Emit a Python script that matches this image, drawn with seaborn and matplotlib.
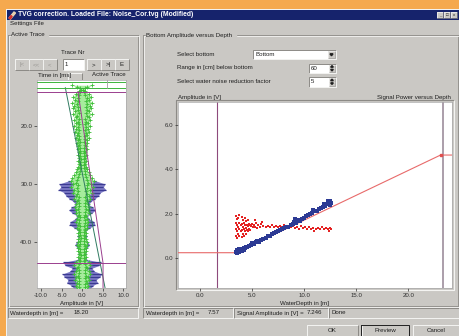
import numpy as np
import pandas as pd
import matplotlib
matplotlib.use("Agg")
import matplotlib.pyplot as plt
from matplotlib.patches import Rectangle, Polygon
from matplotlib.ticker import FormatStrFormatter, MultipleLocator
import seaborn as sns

# ---------------- data ----------------
# active trace, sampled every 0.5 m starting at 13.0 m
trace_depth_start = 13.0
trace_depth_step = 0.5
green_amp = [2.5, 0.6, 0.8, 1.6, 2.2, 1.8, 2.4, 1.9, 2.2, 1.7,
             2.3, 1.6, 2.0, 1.5, 1.9, 1.4, 1.8, 1.3, 1.6, 1.1,
             1.3, 0.9, 1.1, 0.8, 1.0, 0.7, 0.9, 0.7, 0.9, 1.2,
             1.6, 2.0, 2.4, 2.8, 2.2, 2.6, 2.0, 2.3, 1.6, 1.9,
             1.3, 1.5, 1.8, 1.4, 1.6, 1.0, 1.3, 1.5, 1.1, 1.3,
             0.8, 1.0, 0.7, 0.9, 1.1, 1.3, 0.9, 1.0, 0.7, 0.9,
             0.8, 1.6, 1.9, 1.3, 1.6, 1.9, 1.4, 1.7, 1.3, 1.5,
             1.2]
blue_amp = [0.0] * 33 + [3.5, 5.6, 5.2, 5.8, 4.4, 4.0, 3.2, 2.2, 1.6, 2.6,
                         3.2, 2.4, 1.2, 1.8, 2.9, 3.1, 2.0, 1.0, 0.8, 1.2,
                         0.7, 1.4, 1.8, 1.2, 0.8, 1.0, 0.6, 1.2, 4.6, 4.2,
                         2.4, 3.0, 4.8, 4.3, 3.4, 3.8, 2.6, 2.0]

# TVG guide curves on the trace panel (amplitude, depth)
tvg_green_x = [-4.1, 5.6]
tvg_green_d = [13.4, 47.9]
tvg_purple_x = [-1.0, 5.1, 5.1]
tvg_purple_d = [14.1, 43.6, 47.9]
marker_green_d = [12.4, 13.4]
marker_purple_d = [14.1, 43.6]

# bottom amplitude versus water depth
blue_x = [3.5, 3.6, 3.7, 3.8, 3.9, 4.0, 4.1, 4.2, 4.3, 4.4, 4.5, 4.7, 4.9, 5.0,
          5.2, 5.4, 5.5, 5.7, 5.9, 6.1, 6.3, 6.5, 6.7, 6.9, 7.1, 7.3, 7.5, 7.7,
          7.9, 8.1, 8.3, 8.5, 8.7, 8.9, 9.0, 9.2, 9.4, 9.6, 9.8, 10.0, 10.2,
          10.4, 10.6, 10.8, 11.0, 11.2, 11.4, 11.6, 11.8, 12.0, 12.2, 12.4,
          12.5, 12.6, 3.6, 3.8, 4.0, 4.2, 12.3, 12.5, 11.9, 9.1, 10.9]
blue_y = [0.28, 0.36, 0.30, 0.40, 0.35, 0.42, 0.38, 0.47, 0.44, 0.50, 0.48,
          0.55, 0.58, 0.66, 0.62, 0.70, 0.76, 0.72, 0.82, 0.85, 0.90, 0.98,
          1.00, 1.08, 1.12, 1.18, 1.20, 1.28, 1.30, 1.36, 1.40, 1.42, 1.50,
          1.55, 1.62, 1.60, 1.70, 1.68, 1.78, 1.82, 1.88, 1.92, 1.98, 2.02,
          2.10, 2.12, 2.20, 2.24, 2.30, 2.36, 2.42, 2.48, 2.56, 2.50, 0.22,
          0.28, 0.30, 0.34, 2.58, 2.40, 2.45, 1.75, 2.18]

red_x = [3.5, 3.5, 3.5, 3.5, 3.6, 3.6, 3.6, 3.6, 3.7, 3.7, 3.7, 3.8, 3.8, 3.8,
         3.8, 3.9, 3.9, 4.0, 4.0, 4.0, 4.0, 4.1, 4.1, 4.1, 4.2, 4.2, 4.2, 4.3,
         4.3, 4.3, 4.4, 4.4, 4.4, 4.5, 4.5, 4.6, 4.6, 4.6, 4.7, 4.7, 4.8, 4.8,
         4.9, 5.0, 5.1, 5.2, 5.3, 5.4, 5.5, 5.6, 5.8, 5.9, 6.1, 6.3, 6.5, 6.7,
         6.9, 7.1, 7.3, 7.5, 7.7, 7.9, 8.1, 8.3, 8.5, 8.7, 8.9, 9.1, 9.3, 9.5,
         9.7, 9.9, 10.1, 10.3, 10.5, 10.7, 10.9, 11.1, 11.3, 11.5, 11.7, 11.9,
         12.1, 12.3, 12.5, 12.6, 5.3, 6.0, 12.4, 11.0, 9.0]
red_y = [1.00, 1.30, 1.60, 1.90, 0.90, 1.20, 1.50, 1.75, 1.10, 1.40, 1.80,
         1.00, 1.30, 1.60, 1.95, 1.20, 1.50, 0.95, 1.25, 1.55, 1.85, 1.10,
         1.40, 1.70, 1.00, 1.30, 1.60, 1.20, 1.50, 1.80, 1.10, 1.35, 1.65,
         1.25, 1.50, 1.20, 1.45, 1.70, 1.30, 1.55, 1.25, 1.50,
         1.45, 1.55, 1.38, 1.50, 1.42, 1.60, 1.35, 1.48, 1.40, 1.52, 1.44,
         1.38, 1.46, 1.42, 1.50, 1.40, 1.45, 1.38, 1.44, 1.41, 1.47, 1.39,
         1.43, 1.40, 1.46, 1.35, 1.42, 1.30, 1.45, 1.36, 1.40, 1.33, 1.38,
         1.31, 1.36, 1.30, 1.37, 1.32, 1.38, 1.30, 1.36, 1.29, 1.35, 1.31,
         1.70, 1.62, 1.20, 1.22, 1.55]

# signal power versus depth (TVG curve)
power_x = [-2.1, 3.46, 23.1, 24.2]
power_y = [0.24, 0.24, 4.64, 4.64]
power_knee = (23.1, 4.64)
cursor_left = 1.6
cursor_right = 23.3

# ---------------- style ----------------
sns.set_theme(style="white")
plt.rcParams["font.family"] = ["Liberation Sans", "DejaVu Sans"]
plt.rcParams["axes.unicode_minus"] = False

W, H = 460, 336
FACE = "#CAC8C4"
LIGHT = "#F4F4F2"
DARK = "#8C8A86"
TXT = "#1E1E1E"
FS = 4.45

fig = plt.figure(figsize=(W / 100, H / 100), dpi=100)
bg = fig.add_axes([0, 0, 1, 1])
bg.set_xlim(0, W)
bg.set_ylim(H, 0)
bg.axis("off")


def rect(x0, y0, x1, y1, fc, ec="none", lw=0.0, z=1):
    bg.add_patch(Rectangle((x0, y0), x1 - x0, y1 - y0, facecolor=fc,
                           edgecolor=ec, linewidth=lw, zorder=z))


def bevel(x0, y0, x1, y1, raised=True, z=3, lw=0.7):
    tl, br = (LIGHT, DARK) if raised else (DARK, LIGHT)
    bg.plot([x0, x0, x1], [y1, y0, y0], color=tl, lw=lw, zorder=z,
            solid_capstyle="butt")
    bg.plot([x0, x1, x1], [y1, y1, y0], color=br, lw=lw, zorder=z,
            solid_capstyle="butt")


def etched(x0, y0, x1, y1, gap=None):
    for off, col in ((0, DARK), (1, LIGHT)):
        if gap is None:
            bg.plot([x0 + off, x1 + off], [y0 + off, y0 + off], color=col, lw=0.6, zorder=2)
        else:
            bg.plot([x0 + off, gap[0]], [y0 + off, y0 + off], color=col, lw=0.6, zorder=2)
            bg.plot([gap[1], x1 + off], [y0 + off, y0 + off], color=col, lw=0.6, zorder=2)
        bg.plot([x0 + off, x0 + off], [y0 + off, y1 + off], color=col, lw=0.6, zorder=2)
        bg.plot([x1 + off, x1 + off], [y0 + off, y1 + off], color=col, lw=0.6, zorder=2)
        bg.plot([x0 + off, x1 + off], [y1 + off, y1 + off], color=col, lw=0.6, zorder=2)


def label(x, y, s, ha="left", size=FS, color=TXT, weight="normal"):
    bg.text(x, y, s, ha=ha, va="center", fontsize=size, color=color,
            fontweight=weight, zorder=5)


def button(x0, y0, x1, y1, s, color=TXT, default=False):
    rect(x0, y0, x1, y1, FACE, z=2)
    bevel(x0, y0, x1, y1, raised=True)
    if default:
        bg.add_patch(Rectangle((x0 - 0.5, y0 - 0.5), x1 - x0 + 1, y1 - y0 + 1,
                               facecolor="none", edgecolor="#202020", lw=0.7, zorder=4))
    label((x0 + x1) / 2, (y0 + y1) / 2, s, ha="center", color=color)


def spinbox(x0, y0, x1, y1, s):
    rect(x0, y0, x1, y1, "white", z=2)
    bevel(x0, y0, x1, y1, raised=False)
    label(x0 + 2, (y0 + y1) / 2, s)
    bx = x1 - 7
    ym = (y0 + y1) / 2
    for a, b, up in ((y0 + 1, ym, True), (ym, y1 - 1, False)):
        rect(bx, a, x1 - 1, b, FACE, z=3)
        bevel(bx, a, x1 - 1, b, raised=True, z=4, lw=0.5)
        cx, cy = bx + 3, (a + b) / 2
        pts = [(cx - 1.3, cy + 0.8), (cx + 1.3, cy + 0.8), (cx, cy - 0.8)] if up else \
              [(cx - 1.3, cy - 0.8), (cx + 1.3, cy - 0.8), (cx, cy + 0.8)]
        bg.add_patch(Polygon(pts, closed=True, color="#202020", zorder=5))


def field(x0, y0, x1, y1):
    rect(x0, y0, x1, y1, FACE, z=2)
    bevel(x0, y0, x1, y1, raised=False)


# desktop and window
rect(0, 0, W, H, "#F5A94E", z=0)
rect(6, 9, W, H, FACE, z=1)
bg.plot([6, W], [9, 9], color=LIGHT, lw=0.7, zorder=2)
bg.plot([6, 6], [9, H], color=LIGHT, lw=0.7, zorder=2)

# title bar
rect(7, 10, W - 1, 20, "#16236C", z=2)
bg.add_patch(Polygon([(9, 18), (14, 12), (15.5, 13), (10.5, 19)], closed=True,
                     color="#E8D0B0", zorder=3))
bg.add_patch(Polygon([(9, 18), (11, 15.5), (12, 16.5), (10.5, 19)], closed=True,
                     color="#D03030", zorder=4))
label(18, 15, "TVG correction. Loaded File: Noise_Cor.tvg (Modified)",
      color="white", weight="bold", size=4.9)
for bx0, glyph in ((437, "_"), (444, "□"), (451, "x")):
    rect(bx0, 12, bx0 + 6.5, 18, FACE, z=3)
    bevel(bx0, 12, bx0 + 6.5, 18, raised=True, z=4, lw=0.5)
    label(bx0 + 3.25, 15, glyph, ha="center", size=3.2)

# menu
label(10, 24, "Settings File")

# ---------- left group: active trace ----------
etched(8, 35, 138, 306, gap=(10, 49))
label(11, 35, "Active Trace")
label(73, 52, "Trace Nr", ha="center")
for i, s in enumerate(["|<", "<<", "<"]):
    button(15 + i * 14, 59, 29 + i * 14, 70, s, color="#9A9894")
rect(63, 59, 84, 70, "white", z=2)
bevel(63, 59, 84, 70, raised=False)
label(65, 64.5, "1")
for i, s in enumerate([">", ">|", "E"]):
    button(87 + i * 14, 59, 101 + i * 14, 70, s)
label(38, 75, "Time in [ms]")
label(126, 75, "Active Trace", ha="right")
rect(68, 73, 82, 79.5, FACE, z=2)
bevel(68, 73, 82, 79.5, raised=True)

# ---------- right group: bottom amplitude versus depth ----------
etched(143, 35, 458, 306, gap=(145, 237))
label(146, 35, "Bottom Amplitude versus Depth")
label(177, 54, "Select bottom")
rect(253, 50, 336, 59, "white", z=2)
bevel(253, 50, 336, 59, raised=False)
label(256, 54.5, "Bottom")
rect(328, 51, 335, 58, FACE, z=3)
bevel(328, 51, 335, 58, raised=True, z=4, lw=0.5)
bg.add_patch(Polygon([(330, 53.8), (333, 53.8), (331.5, 55.8)], closed=True,
                     color="#202020", zorder=5))
label(177, 68, "Range in [cm] below bottom")
spinbox(309, 63.5, 336, 73, "60")
label(177, 81.5, "Select water noise reduction factor")
spinbox(309, 77, 336, 86.5, "5")
label(178, 97, "Amplitude in [V]")
label(451, 97, "Signal Power versus Depth", ha="right")
bevel(176, 100, 454, 290, raised=False, lw=0.8)

# status fields
field(8, 308, 138, 318)
label(10, 313, "Waterdepth in [m] =")
label(74, 313, "18.20")
field(143, 308, 233, 318)
label(146, 313, "Waterdepth in [m] =")
label(208, 313, "7.57")
field(234, 308, 328, 318)
label(237, 313, "Signal Amplitude in [V] =")
label(307, 313, "7.246")
field(329, 308, 459, 318)
label(332, 313, "Done")

# dialog buttons
button(307, 325, 358, 337, "OK")
button(362, 325, 409, 337, "Preview", default=True)
button(413, 325, 459, 337, "Cancel")


def add_axes_px(x0, y0, x1, y1):
    return fig.add_axes([x0 / W, 1 - y1 / H, (x1 - x0) / W, (y1 - y0) / H])


def style_axes(ax):
    ax.set_facecolor("white")
    for sp in ax.spines.values():
        sp.set_color("#A8A8A8")
        sp.set_linewidth(0.5)
    ax.tick_params(which="both", direction="out", colors="#303030",
                   labelsize=FS, pad=1.2, width=0.5)
    ax.tick_params(which="major", length=2.2)
    ax.tick_params(which="minor", length=1.2)
    ax.tick_params(axis="x", bottom=True, top=False)
    ax.tick_params(axis="y", left=True, right=False)
    ax.set_xlabel("")
    ax.set_ylabel("")


# ---------- trace panel ----------
axl = add_axes_px(37, 80, 126, 288)
n = len(green_amp)
depth = trace_depth_start + trace_depth_step * np.arange(n)
g = np.array(green_amp)
b = np.array(blue_amp)

axl.fill_betweenx(depth, -b, b, color="#7E7CC6", linewidth=0, zorder=2)
mask = b > 0
axl.hlines(depth[mask], -b[mask], b[mask], color="#3B3A92", lw=0.9, zorder=3)
axl.fill_betweenx(depth, -g, g, color="#A6EC9C", linewidth=0, zorder=4)
green_pts = pd.DataFrame({"amp": np.concatenate([-g, g, -0.5 * g, 0.5 * g]),
                          "depth": np.concatenate([depth, depth, depth + 0.25, depth + 0.25])})
sns.scatterplot(data=green_pts, x="amp", y="depth", ax=axl, color="#3EBE38",
                marker="+", s=9, linewidth=0.6, zorder=5, legend=False)
sns.lineplot(x=tvg_green_x, y=tvg_green_d, ax=axl, sort=False, estimator=None,
             color="#2F7A60", lw=0.7, zorder=6)
sns.lineplot(x=tvg_purple_x, y=tvg_purple_d, ax=axl, sort=False, estimator=None,
             color="#9A3E8E", lw=0.7, zorder=6)
for d in marker_green_d:
    axl.axhline(d, color="#3CB43C", lw=0.7, zorder=6)
for d in marker_purple_d:
    axl.axhline(d, color="#9A3E8E", lw=0.7, zorder=6)
axl.plot([6.0, 6.0], [12.1, 13.4], color="#A0A0A0", lw=0.6, zorder=6)

axl.set_xlim(-11.0, 10.7)
axl.set_ylim(47.9, 12.1)
axl.set_xticks([-10, -5, 0, 5, 10])
axl.set_yticks([20, 30, 40])
axl.xaxis.set_minor_locator(MultipleLocator(1))
axl.xaxis.set_major_formatter(FormatStrFormatter("%.1f"))
axl.yaxis.set_major_formatter(FormatStrFormatter("%.1f"))
style_axes(axl)
bg.text(82, 303, "Amplitude in [V]", ha="center", va="center", fontsize=FS, color=TXT)

# ---------- bottom amplitude panel ----------
axr = add_axes_px(178, 102, 452, 288)
sns.lineplot(x=power_x, y=power_y, ax=axr, sort=False, estimator=None,
             color="#E86A6A", lw=0.8, zorder=3)
axr.plot(*power_knee, marker="s", ms=1.6, color="#E05050", zorder=4)
axr.axvline(cursor_left, color="#8E4A7C", lw=0.8, zorder=2)
axr.axvline(cursor_right, color="#A596A4", lw=1.3, zorder=2)
sns.scatterplot(x=red_x, y=red_y, ax=axr, color="#E42222", marker="s",
                s=3.5, linewidth=0, zorder=5, legend=False)
sns.scatterplot(x=blue_x, y=blue_y, ax=axr, color="#2C3A94", marker="s",
                s=5, linewidth=0, zorder=6, legend=False)
axr.set_xlim(-2.1, 24.2)
axr.set_ylim(-1.35, 7.03)
axr.set_xticks([0, 5, 10, 15, 20])
axr.set_yticks([0, 2, 4, 6])
axr.xaxis.set_minor_locator(MultipleLocator(1))
axr.xaxis.set_major_formatter(FormatStrFormatter("%.1f"))
axr.yaxis.set_major_formatter(FormatStrFormatter("%.1f"))
style_axes(axr)
bg.text(305, 303, "WaterDepth in [m]", ha="center", va="center", fontsize=FS, color=TXT)

fig.savefig("out.png", dpi=100)
